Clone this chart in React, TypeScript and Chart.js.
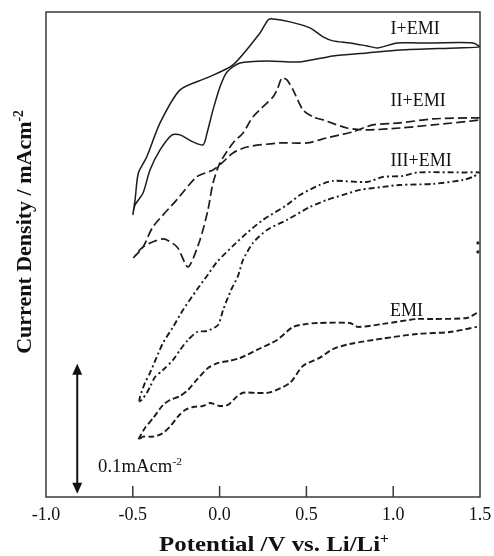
import React, { useEffect, useRef } from "react";
import { Chart, registerables } from "chart.js";

Chart.register(...registerables);

// Potential (V vs Li/Li+) and current density (mA cm^-2) for each cyclic voltammogram
const I_EMI_V = [-0.5, -0.487, -0.468, -0.42, -0.343, -0.228, -0.074, 0.077, 0.233, 0.279, 0.308, 0.406, 0.521, 0.596, 0.653, 0.751, 0.849, 0.912, 1.022, 1.137, 1.229, 1.459, 1.5,
  1.368, 1.039, 0.849, 0.653, 0.463, 0.273, 0.118, 0.043, 0.002, -0.038, -0.072, -0.095, -0.153, -0.228, -0.274, -0.343, -0.401, -0.441, -0.487, -0.5];
const I_EMI_J = [0.2169, 0.2285, 0.2492, 0.2615, 0.2877, 0.3131, 0.3223, 0.3323, 0.3569, 0.3669, 0.3677, 0.3654, 0.3608, 0.3538, 0.3508, 0.3492, 0.3469, 0.3454, 0.3492, 0.3492, 0.3492, 0.3492, 0.3462,
  0.3454, 0.3438, 0.3415, 0.3392, 0.3346, 0.3354, 0.3338, 0.3269, 0.3154, 0.2977, 0.28, 0.2708, 0.2731, 0.2785, 0.2785, 0.2669, 0.2515, 0.2338, 0.2246, 0.2169];

const II_EMI_V = [-0.497, -0.441, -0.384, -0.247, -0.132, -0.038, 0.014, 0.077, 0.158, 0.348, 0.503, 0.618, 0.693, 0.768, 0.883, 1.039, 1.229, 1.5,
  1.5, 1.229, 1.039, 0.849, 0.734, 0.596, 0.538, 0.48, 0.423, 0.388, 0.359, 0.331, 0.308, 0.192, 0.135, 0.077, 0.002, -0.038, -0.067, -0.113, -0.182, -0.245, -0.326, -0.441, -0.497];
const II_EMI_J = [0.1838, 0.1923, 0.2077, 0.2285, 0.2462, 0.2515, 0.2569, 0.2646, 0.2692, 0.2723, 0.2723, 0.2762, 0.2785, 0.2808, 0.2862, 0.2877, 0.2908, 0.2915,
  0.29, 0.2862, 0.2838, 0.2823, 0.2838, 0.29, 0.2923, 0.2977, 0.3131, 0.3208, 0.3223, 0.3131, 0.3077, 0.2923, 0.28, 0.2723, 0.2569, 0.2415, 0.2208, 0.1977, 0.1769, 0.1923, 0.1985, 0.1923, 0.1838];

const III_EMI_V = [-0.463, -0.459, -0.43, -0.401, -0.362, -0.326, -0.268, -0.211, -0.132, -0.073, -0.015, 0.077, 0.158, 0.25, 0.388, 0.463, 0.578, 0.653, 0.849, 0.941, 1.056, 1.137, 1.402, 1.5,
  1.459, 1.402, 1.229, 1.039, 0.941, 0.809, 0.711, 0.619, 0.521, 0.388, 0.273, 0.192, 0.135, 0.106, 0.066, 0.02, -0.009, -0.073, -0.13, -0.182, -0.228, -0.268, -0.326, -0.372, -0.401, -0.42, -0.449, -0.463];
const III_EMI_J = [0.0733, 0.0769, 0.0877, 0.0954, 0.1077, 0.1185, 0.1308, 0.1438, 0.1592, 0.17, 0.1808, 0.1931, 0.2031, 0.2131, 0.2246, 0.2323, 0.24, 0.2431, 0.2423, 0.2462, 0.2469, 0.2496, 0.2496, 0.2495,
  0.2462, 0.2438, 0.2408, 0.24, 0.2385, 0.2362, 0.2323, 0.2285, 0.2231, 0.2131, 0.2054, 0.1954, 0.1823, 0.17, 0.1592, 0.1438, 0.1323, 0.1277, 0.1269, 0.1208, 0.1131, 0.1054, 0.0977, 0.0923, 0.0846, 0.08, 0.0746, 0.0733];

const EMI_V = [1.482, 1.425, 1.229, 1.137, 0.941, 0.797, 0.751, 0.561, 0.503, 0.423, 0.331, 0.215, 0.118, 0.06, -0.009, -0.067, -0.132, -0.182, -0.228, -0.286, -0.326, -0.382, -0.43, -0.468,
  -0.441, -0.384, -0.334, -0.286, -0.24, -0.199, -0.153, -0.096, -0.055, 0.002, 0.048, 0.099, 0.135, 0.215, 0.29, 0.406, 0.48, 0.578, 0.653, 0.751, 0.941, 1.137, 1.327, 1.482];
const EMI_J = [0.1415, 0.1377, 0.1369, 0.1369, 0.1331, 0.1308, 0.1338, 0.1338, 0.1331, 0.1308, 0.1208, 0.1131, 0.1069, 0.1048, 0.1031, 0.0992, 0.09, 0.0823, 0.0777, 0.0746, 0.0708, 0.0608, 0.0531, 0.0438,
  0.0464, 0.0464, 0.0485, 0.0541, 0.0618, 0.0669, 0.0692, 0.07, 0.0723, 0.07, 0.0708, 0.0772, 0.0802, 0.08, 0.0804, 0.0879, 0.1008, 0.1072, 0.1138, 0.1177, 0.1219, 0.1254, 0.1269, 0.1308];

// small marks on the right frame
const EDGE_V = [1.488, 1.488];
const EDGE_J = [0.1954, 0.1885];

// curve labels
const LABEL_TEXT = ["I+EMI", "II+EMI", "III+EMI", "EMI"];
const LABEL_V = [0.985, 0.985, 0.985, 0.982];
const LABEL_J = [0.361, 0.3054, 0.2592, 0.1438];

// 0.1 mA cm^-2 scale bar
const ARROW_V = -0.82;
const ARROW_J = [0.0025, 0.1025];
const SCALE_TEXT_V = -0.7;
const SCALE_TEXT_J = 0.0238;

const X_TICKS = [-1.0, -0.5, 0.0, 0.5, 1.0, 1.5];

const zip = (xs: number[], ys: number[]) => xs.map((x, i) => ({ x, y: ys[i] }));

const SERIF = "'Liberation Serif', 'Times New Roman', serif";

type Part = { t: string; sup?: boolean };

function drawRich(ctx: CanvasRenderingContext2D, parts: Part[], x: number, y: number, size: number, bold: boolean, align: "left" | "center", stretch = 1) {
  const w = bold ? "bold " : "";
  const supSize = size * 0.62;
  let total = 0;
  const widths = parts.map((p) => {
    ctx.font = `${w}${p.sup ? supSize : size}px ${SERIF}`;
    const m = ctx.measureText(p.t).width * stretch;
    total += m;
    return m;
  });
  let cx = align === "center" ? x - total / 2 : x;
  ctx.textBaseline = "alphabetic";
  ctx.textAlign = "left";
  parts.forEach((p, i) => {
    ctx.font = `${w}${p.sup ? supSize : size}px ${SERIF}`;
    const base = y + size * 0.34;
    ctx.save();
    ctx.translate(cx, p.sup ? base - size * 0.4 : base);
    ctx.scale(stretch, 1);
    ctx.fillText(p.t, 0, 0);
    ctx.restore();
    cx += widths[i];
  });
}

const decor = {
  id: "decor",
  afterDatasetsDraw(chart: any) {
    const { ctx, chartArea: a, scales } = chart;
    const xs = scales.x;
    const ys = scales.y;
    ctx.save();
    ctx.fillStyle = "#111";
    ctx.strokeStyle = "#3a3a3a";
    ctx.lineWidth = 1.5;
    ctx.strokeRect(a.left, a.top, a.right - a.left, a.bottom - a.top);
    // inward ticks
    ctx.beginPath();
    X_TICKS.forEach((v) => {
      const px = xs.getPixelForValue(v);
      if (px > a.left + 2 && px < a.right - 2) {
        ctx.moveTo(px, a.bottom);
        ctx.lineTo(px, a.bottom - 11);
      }
    });
    ctx.stroke();
    // scale arrow
    const ax = xs.getPixelForValue(ARROW_V);
    const yTop = ys.getPixelForValue(ARROW_J[1]);
    const yBot = ys.getPixelForValue(ARROW_J[0]);
    const head = 11;
    ctx.strokeStyle = "#111";
    ctx.lineWidth = 2;
    ctx.beginPath();
    ctx.moveTo(ax, yTop + head - 1);
    ctx.lineTo(ax, yBot - head + 1);
    ctx.stroke();
    ctx.beginPath();
    ctx.moveTo(ax, yTop);
    ctx.lineTo(ax - 5, yTop + head);
    ctx.lineTo(ax + 5, yTop + head);
    ctx.closePath();
    ctx.moveTo(ax, yBot);
    ctx.lineTo(ax - 5, yBot - head);
    ctx.lineTo(ax + 5, yBot - head);
    ctx.closePath();
    ctx.fill();
    // curve labels
    LABEL_TEXT.forEach((t, i) => {
      drawRich(ctx, [{ t }], xs.getPixelForValue(LABEL_V[i]), ys.getPixelForValue(LABEL_J[i]), 18, false, "left");
    });
    drawRich(ctx, [{ t: "0.1mAcm" }, { t: "-2", sup: true }], xs.getPixelForValue(SCALE_TEXT_V), ys.getPixelForValue(SCALE_TEXT_J), 18, false, "left", 1.04);
    // axis titles
    drawRich(ctx, [{ t: "Potential /V vs. Li/Li" }, { t: "+", sup: true }], a.left + 228, a.bottom + 47, 22, true, "center", 1.13);
    ctx.translate(24, a.top + 220);
    ctx.rotate(-Math.PI / 2);
    drawRich(ctx, [{ t: "Current Density / mAcm" }, { t: "-2", sup: true }], 0, 0, 22, true, "center");
    ctx.restore();
  },
};

export default function App() {
  const ref = useRef<HTMLCanvasElement>(null);
  useEffect(() => {
    const line = (label: string, v: number[], j: number[], dash: number[], width: number) => ({
      label,
      data: zip(v, j),
      showLine: true,
      borderColor: "#1c1c1c",
      borderWidth: width,
      borderDash: dash,
      pointRadius: 0,
      tension: 0.25,
      fill: false,
    });
    const chart = new Chart(ref.current as HTMLCanvasElement, {
      type: "scatter",
      data: {
        datasets: [
          line("I+EMI", I_EMI_V, I_EMI_J, [], 1.5),
          line("II+EMI", II_EMI_V, II_EMI_J, [9, 4], 1.7),
          line("III+EMI", III_EMI_V, III_EMI_J, [6, 3, 2, 3], 1.9),
          line("EMI", EMI_V, EMI_J, [6, 3], 1.9),
          {
            label: "edge",
            data: zip(EDGE_V, EDGE_J),
            showLine: false,
            pointRadius: 1.6,
            pointBackgroundColor: "#222",
            pointBorderWidth: 0,
          } as any,
        ],
      },
      options: {
        animation: false,
        responsive: false,
        maintainAspectRatio: false,
        layout: { padding: { top: 12, right: 14, left: 0, bottom: 0 } },
        plugins: { legend: { display: false }, tooltip: { enabled: false } },
        scales: {
          x: {
            type: "linear",
            min: -1.0,
            max: 1.5,
            afterBuildTicks: (s: any) => {
              s.ticks = X_TICKS.map((value) => ({ value }));
            },
            afterFit: (s: any) => {
              s.height = 59;
            },
            ticks: {
              autoSkip: false,
              maxRotation: 0,
              padding: -1,
              color: "#111",
              font: { family: SERIF, size: 18 },
              callback: (v: any) => Number(v).toFixed(1),
            },
            grid: { display: false },
            border: { display: false },
          },
          y: {
            type: "linear",
            min: 0,
            max: 0.373,
            afterFit: (s: any) => {
              s.width = 46;
            },
            ticks: { display: false },
            grid: { display: false },
            border: { display: false },
          },
        },
      },
      plugins: [decor],
    } as any);
    return () => chart.destroy();
  }, []);
  return (
    <div style={{ position: "absolute", left: 0, top: 0, width: 494, height: 556, background: "#fff" }}>
      <canvas ref={ref} width={494} height={556} style={{ width: 494, height: 556, display: "block" }} />
    </div>
  );
}
